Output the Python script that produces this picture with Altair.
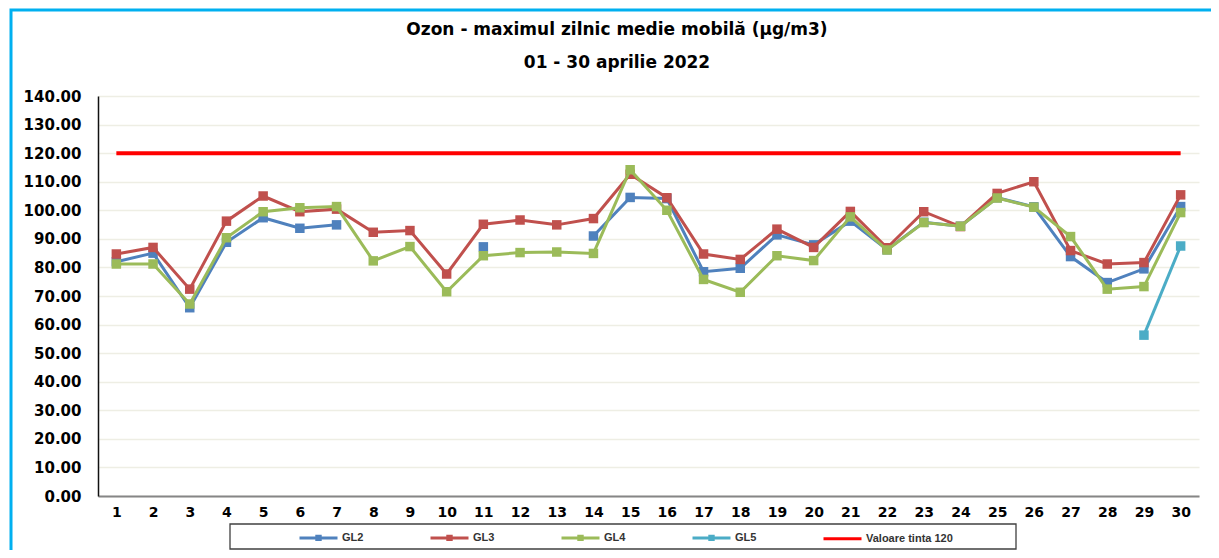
import altair as alt
import pandas as pd

# ---- data ----
days = list(range(1, 31))
gl2 = [82.0, 85.0, 65.9, 88.8, 97.4, 93.7, 94.9, None, None, None,
       87.2, None, None, 91.0, 104.5, 104.1, 78.5, 79.7, 91.4, 87.9,
       96.2, 86.2, 95.8, 94.4, 104.4, 101.2, 83.8, 74.7, 79.5, 101.3]
gl3 = [84.7, 87.0, 72.4, 96.2, 105.0, 99.5, 100.4, 92.3, 92.9, 77.7,
       95.1, 96.6, 94.9, 97.1, 112.6, 104.4, 84.7, 82.8, 93.4, 87.0,
       99.6, 86.9, 99.5, 94.3, 105.9, 110.0, 85.9, 81.2, 81.7, 105.4]
gl4 = [81.2, 81.2, 67.2, 90.4, 99.5, 100.9, 101.3, 82.3, 87.3, 71.5,
       84.1, 85.2, 85.4, 84.9, 114.2, 100.0, 75.8, 71.3, 84.1, 82.4,
       97.7, 86.1, 95.7, 94.4, 104.3, 101.1, 90.8, 72.4, 73.3, 99.2]
gl5 = [None] * 28 + [56.3, 87.5]
target = [120.0] * 30

series_names = ["GL2", "GL3", "GL4", "GL5", "Valoare tinta 120"]
series_colors = ["#4f81bd", "#c0504d", "#9bbb59", "#4bacc6", "#ff0000"]
y_ticks = [0, 10, 20, 30, 40, 50, 60, 70, 80, 90, 100, 110, 120, 130, 140]
title_lines = ["Ozon - maximul zilnic medie mobilă (µg/m3)", "01 - 30 aprilie 2022"]

rows = []
for name, vals in zip(series_names, [gl2, gl3, gl4, gl5, target]):
    for d, v in zip(days, vals):
        rows.append({"day": d, "series": name, "value": v})
df = pd.DataFrame(rows)
legend_df = pd.DataFrame({"series": series_names})
one = pd.DataFrame({"k": [0]})

W, H = 1101, 400

sym_sq = "M-1,0H1M-0.09,-0.09H0.09V0.09H-0.09Z"
sym_line = "M-1,0H1"
color_scale = alt.Scale(domain=series_names, range=series_colors)

legend = alt.Legend(
    title=None, orient="none", legendX=200, legendY=421,
    direction="horizontal", columns=5, gridAlign="all",
    columnPadding=-6, labelOffset=3, padding=0,
    labelFont="Liberation Sans", labelFontSize=11, labelFontWeight="bold",
    labelColor="#333333", symbolSize=1444, symbolStrokeWidth=3,
    symbolOpacity=1,
)

x_enc = alt.X("day:O", scale=alt.Scale(type="point", padding=0.5),
              axis=alt.Axis(title=None, labelAngle=0, ticks=False, labelPadding=9,
                            labelFont="DejaVu Sans", labelFontSize=14,
                            labelFontWeight="bold", labelColor="#000000",
                            domainColor="#868686", domainWidth=2, grid=False))
y_enc = alt.Y("value:Q", scale=alt.Scale(domain=[0, 140], nice=False, zero=True),
              axis=alt.Axis(title=None, values=y_ticks, format=".2f", ticks=False,
                            labelPadding=17, labelFont="DejaVu Sans",
                            labelFontSize=15, labelFontWeight="bold",
                            labelColor="#000000", domainColor="#111111",
                            domainWidth=1.5, gridColor="#eeeee4", gridWidth=1.5))

base = alt.Chart(df)
layers = []

# outer frame, legend frame and the two title lines (decoration)
frame = alt.Chart(one).mark_rect(
    fill="transparent", stroke="#00b0f0", strokeWidth=3
).encode(x=alt.value(-87), x2=alt.value(1118), y=alt.value(-86), y2=alt.value(460))
legend_box = alt.Chart(one).mark_rect(
    fill="transparent", stroke="#404040", strokeWidth=1.3
).encode(x=alt.value(132), x2=alt.value(918), y=alt.value(428), y2=alt.value(453))
layers += [frame, legend_box]
for txt, ty in zip(title_lines, [-66, -33]):
    layers.append(alt.Chart(one).mark_text(
        font="DejaVu Sans", fontSize=17, fontWeight="bold", color="#000000",
        align="center", baseline="middle"
    ).encode(x=alt.value(519), y=alt.value(ty), text=alt.value(txt)))

for name in series_names:
    sub = base.transform_filter(alt.datum.series == name)
    col = alt.Color("series:N", scale=color_scale)
    width = 4 if name.startswith("Valoare") else 3
    layers.append(sub.mark_line(strokeWidth=width, invalid="break-paths-filter-domains")
                  .encode(x=x_enc, y=y_enc, color=col))
    if not name.startswith("Valoare"):
        layers.append(sub.mark_square(size=90, opacity=1, filled=True)
                      .encode(x=x_enc, y=y_enc, color=col))

# legend carrier: invisible symbols, the legend draws line+square glyphs
legend_layer = alt.Chart(legend_df).mark_point(
    filled=False, opacity=0, strokeWidth=3
).encode(
    x=alt.value(0), y=alt.value(0),
    color=alt.Color("series:N", scale=color_scale, legend=legend),
    shape=alt.Shape("series:N",
                    scale=alt.Scale(domain=series_names,
                                    range=[sym_sq, sym_sq, sym_sq, sym_sq, sym_line]),
                    legend=legend),
)
layers.append(legend_layer)

chart = alt.layer(*layers).properties(
    width=W, height=H,
    autosize=alt.AutoSizeParams(type="none"),
    padding={"left": 90, "top": 88, "right": 12, "bottom": 54},
    background="white",
).configure_view(strokeWidth=0)

chart.save("out.html", embed_options={"renderer": "svg", "actions": False})
